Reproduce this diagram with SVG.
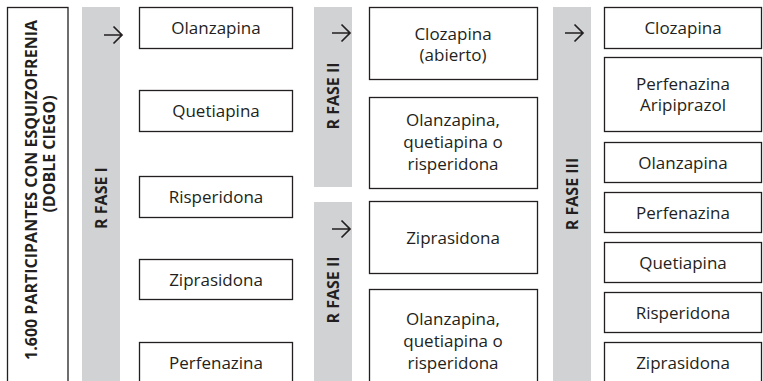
<svg xmlns="http://www.w3.org/2000/svg" width="763" height="381" viewBox="0 0 763 381">
<style>
.box{fill:#fff;stroke:#231f20;stroke-width:1.3}
.band{fill:#d1d2d4}
.t{font-family:"Open Sans","Noto Sans",sans-serif;font-size:17px;fill:#231f20;text-anchor:middle}
.b{font-family:"Open Sans","Noto Sans",sans-serif;font-size:16px;font-weight:bold;fill:#231f20;text-anchor:middle}
.arr{fill:none;stroke:#231f20;stroke-width:1.7}
</style>
<rect width="763" height="381" fill="#fff"/>
<g id="participantes">
<rect class="box" x="7.5" y="7.5" width="60.5" height="380"/>
<text class="b" transform="translate(37 190) rotate(-90)">1.600 PARTICIPANTES CON ESQUIZOFRENIA</text>
<text class="b" transform="translate(55 154) rotate(-90)">(DOBLE CIEGO)</text>
</g>
<g id="fase1">
<rect class="band" x="82" y="7" width="38" height="374"/>
<text class="b" transform="translate(107 198) rotate(-90)">R FASE I</text>
</g>
<g id="fase2a">
<rect class="band" x="314" y="7" width="38" height="180"/>
<text class="b" transform="translate(339 96) rotate(-90)">R FASE II</text>
</g>
<g id="fase2b">
<rect class="band" x="314" y="202" width="38" height="179"/>
<text class="b" transform="translate(339 290) rotate(-90)">R FASE II</text>
</g>
<g id="fase3">
<rect class="band" x="553" y="7" width="38" height="374"/>
<text class="b" transform="translate(578 194) rotate(-90)">R FASE III</text>
</g>
<g id="f1-olanzapina"><rect class="box" x="139.5" y="7.5" width="153" height="41"/><text class="t" x="216" y="34">Olanzapina</text></g>
<g id="f1-quetiapina"><rect class="box" x="139.5" y="90.5" width="153" height="41"/><text class="t" x="216" y="117">Quetiapina</text></g>
<g id="f1-risperidona"><rect class="box" x="139.5" y="176.5" width="153" height="41"/><text class="t" x="216" y="203">Risperidona</text></g>
<g id="f1-ziprasidona"><rect class="box" x="139.5" y="259.5" width="153" height="40"/><text class="t" x="216" y="286">Ziprasidona</text></g>
<g id="f1-perfenazina"><rect class="box" x="139.5" y="342.5" width="153" height="45"/><text class="t" x="216" y="369">Perfenazina</text></g>
<g id="f2-clozapina"><rect class="box" x="369.5" y="7.5" width="168" height="72"/><text class="t" x="453" y="40">Clozapina</text><text class="t" x="453" y="61">(abierto)</text></g>
<g id="f2-olq-r-a"><rect class="box" x="369.5" y="97.5" width="168" height="91"/><text class="t" x="453" y="126">Olanzapina,</text><text class="t" x="453" y="148">quetiapina o</text><text class="t" x="453" y="170">risperidona</text></g>
<g id="f2-ziprasidona"><rect class="box" x="369.5" y="201.5" width="168" height="72"/><text class="t" x="453" y="244">Ziprasidona</text></g>
<g id="f2-olq-r-b"><rect class="box" x="369.5" y="289.5" width="168" height="98"/><text class="t" x="453" y="325">Olanzapina,</text><text class="t" x="453" y="347">quetiapina o</text><text class="t" x="453" y="369">risperidona</text></g>
<g id="f3-clozapina"><rect class="box" x="604.5" y="7.5" width="157" height="41"/><text class="t" x="683" y="34">Clozapina</text></g>
<g id="f3-perf-arip"><rect class="box" x="604.5" y="57.5" width="157" height="74"/><text class="t" x="683" y="90">Perfenazina</text><text class="t" x="683" y="111">Aripiprazol</text></g>
<g id="f3-olanzapina"><rect class="box" x="604.5" y="142.5" width="157" height="40"/><text class="t" x="683" y="169">Olanzapina</text></g>
<g id="f3-perfenazina"><rect class="box" x="604.5" y="192.5" width="157" height="40"/><text class="t" x="683" y="219">Perfenazina</text></g>
<g id="f3-quetiapina"><rect class="box" x="604.5" y="242.5" width="157" height="40"/><text class="t" x="683" y="269">Quetiapina</text></g>
<g id="f3-risperidona"><rect class="box" x="604.5" y="292.5" width="157" height="40"/><text class="t" x="683" y="319">Risperidona</text></g>
<g id="f3-ziprasidona"><rect class="box" x="604.5" y="342.5" width="157" height="45"/><text class="t" x="683" y="369">Ziprasidona</text></g>
<g id="connectors">
<path class="arr" d="M104 35H122M113.5 26.5L122 35L113.5 43.5"/>
<path class="arr" d="M332 33H350M341.5 24.5L350 33L341.5 41.5"/>
<path class="arr" d="M332 229H350M341.5 220.5L350 229L341.5 237.5"/>
<path class="arr" d="M565 33H583M574.5 24.5L583 33L574.5 41.5"/>
</g>
</svg>
